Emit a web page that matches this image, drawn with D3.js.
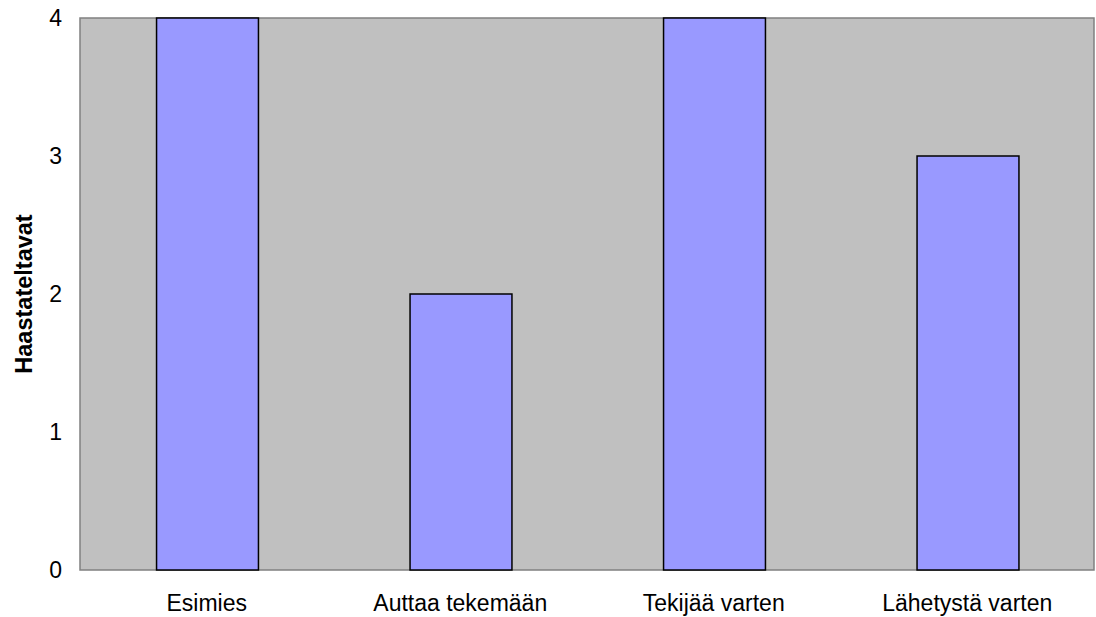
<!DOCTYPE html>
<html>
<head>
<meta charset="utf-8">
<script src="https://cdn.jsdelivr.net/npm/d3@7"></script>
<style>
  body { margin: 0; background: #fff; }
  text { font-family: "Liberation Sans", Arial, sans-serif; }
</style>
</head>
<body>
<svg id="paper"></svg>
<script>
(function () {
    var categories = ["Esimies", "Auttaa tekemään", "Tekijää varten", "Lähetystä varten"];
    var values = [4, 2, 4, 3];
    var yTicks = [0, 1, 2, 3, 4];
    var yTitle = "Haastateltavat";

    var width = 1096,
        height = 617;
    var margin = {left: 80, right: 2, top: 18, bottom: 47};

    var svg = d3.select('#paper')
        .attr('width', width)
        .attr('height', height);

    var x = d3.scaleBand()
        .domain(categories)
        .range([margin.left, width - margin.right])
        .paddingInner(0.6)
        .paddingOuter(0.3);

    var y = d3.scaleLinear()
        .domain([0, 4])
        .range([height - margin.bottom, margin.top]);

    // plot area
    svg.append("rect")
        .attr("x", margin.left)
        .attr("y", margin.top)
        .attr("width", width - margin.left - margin.right)
        .attr("height", height - margin.top - margin.bottom)
        .attr("fill", "#c0c0c0")
        .attr("stroke", "#808080")
        .attr("stroke-width", 1.5);

    svg.selectAll("rect.bar")
        .data(values)
        .enter().append("rect")
        .attr("class", "bar")
        .attr("x", function (d, i) { return x(categories[i]) + 0.5; })
        .attr("y", function (d) { return y(d); })
        .attr("width", x.bandwidth() + 0.5)
        .attr("height", function (d) { return y(0) - y(d); })
        .attr("fill", "#9999ff")
        .attr("stroke", "#000")
        .attr("stroke-width", 1.5);

    var yAxis = d3.axisLeft(y).tickValues(yTicks).tickSize(0).tickPadding(18).tickFormat(d3.format("d"));
    svg.append("g")
        .attr("transform", "translate(" + margin.left + ",0)")
        .call(yAxis)
        .call(function (g) { g.select(".domain").remove(); })
        .selectAll("text")
        .attr("font-size", 23)
        .attr("fill", "#000")
        .style("font-family", "Liberation Sans, Arial, sans-serif");

    var xAxis = d3.axisBottom(x).tickSize(0).tickPadding(25);
    svg.append("g")
        .attr("transform", "translate(0," + (height - margin.bottom) + ")")
        .call(xAxis)
        .call(function (g) { g.select(".domain").remove(); })
        .selectAll("text")
        .attr("font-size", 23)
        .attr("fill", "#000")
        .style("font-family", "Liberation Sans, Arial, sans-serif");

    svg.append("text")
        .attr("transform", "translate(32," + ((margin.top + height - margin.bottom) / 2) + ") rotate(-90)")
        .attr("text-anchor", "middle")
        .attr("font-size", 23.5)
        .attr("font-weight", "bold")
        .text(yTitle);
})();
</script>
</body>
</html>
